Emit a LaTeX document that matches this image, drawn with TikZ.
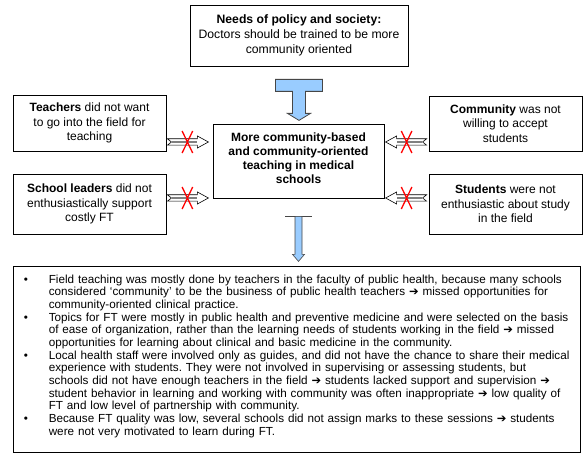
\documentclass[tikz,border=0pt]{standalone}
\usepackage{fontspec}
\setmainfont{Liberation Sans}
\newfontfamily\symfont{DejaVu Sans}
\usepackage{enumitem}
\usetikzlibrary{calc}
\frenchspacing
\definecolor{arrowblue}{RGB}{153,204,255}
\definecolor{arrowedge}{RGB}{70,70,70}
\definecolor{crossred}{RGB}{255,0,0}
\newcommand{\ar}{{\symfont\fontsize{11.5}{10}\selectfont ➔}}
\newcommand{\notchedarrow}{%
  \filldraw[fill=white, draw=black, line width=0.6pt]
    (0,-3.2) -- (30,-3.2) -- (30,-6) -- (41,0) -- (30,6) -- (30,3.2) -- (0,3.2) -- (4,0) -- cycle;
  \draw[gray, line width=2.2pt] (4.5,0) -- (29.6,0);
  \draw[crossred, line width=1.3pt] (14.7,-11) -- (25.3,11) (14.7,11) -- (25.3,-11);
}
\begin{document}
\frenchspacing
\begin{tikzpicture}[x=1pt,y=-1pt,
  box/.style={draw, line width=0.8pt, align=center, inner sep=0pt,
    font=\fontsize{12}{14.6}\selectfont},
  sidebox/.style={box, minimum width=153pt}]
\useasboundingbox (0,0) rectangle (587,470);

% boxes
\node[box, minimum width=218pt, minimum height=61pt, font=\fontsize{12.2}{14.8}\selectfont] (policy) at (299,35.5)
  {\textbf{Needs of policy and society:}\\Doctors should be trained to be more\\community oriented};
\node[box, minimum width=171pt, minimum height=74pt] (goal) at (298.5,161) {};
\node[align=center, inner sep=0pt, font=\fontsize{12}{14}\selectfont\bfseries, yshift=3pt] (goaltext) at (goal.center)
  {More community-based\\and community-oriented\\teaching in medical\\schools};
\node[sidebox, minimum height=56pt] (teachers) at (89.5,123)
  {\textbf{Teachers} did not want\\to go into the field for\\teaching};
\node[sidebox, minimum height=60pt] (leaders) at (89.5,204)
  {\textbf{School leaders} did not\\enthusiastically support\\costly FT};
\node[sidebox, minimum height=55pt] (community) at (505.5,123.5)
  {\textbf{Community} was not\\willing to accept\\students};
\node[sidebox, minimum height=60pt] (students) at (505.5,204)
  {\textbf{Students} were not\\enthusiastic about study\\in the field};
\node[draw, line width=0.8pt, minimum width=567pt, minimum height=186pt, inner sep=0pt] (result) at (296.5,359) {};

% top block arrow
\begin{scope}[shift={(policy.south)}]
  \filldraw[fill=arrowblue, draw=arrowedge, line width=0.8pt]
    (-23.5,13) -- (23.5,13) -- (23.5,25) -- (6.5,25) -- (6.5,47) -- (11.5,47) -- (0,54)
    -- (-11.5,47) -- (-6.5,47) -- (-6.5,25) -- (-23.5,25) -- cycle;
\end{scope}

% bottom block arrow
\begin{scope}[shift={(goal.south)}]
  \draw[arrowedge, line width=1pt] (-13.5,18) -- (13.5,18);
  \filldraw[fill=arrowblue, draw=arrowedge, line width=0.6pt]
    (-3.5,18) -- (3.5,18) -- (3.5,56) -- (6,56) -- (0,63) -- (-6,56) -- (-3.5,56) -- cycle;
\end{scope}

% blocked arrows
\coordinate (t1) at ($(teachers.east)+(1,19)$);
\coordinate (t2) at ($(leaders.east)+(1,-6)$);
\coordinate (t3) at ($(community.west)+(-2,18.5)$);
\coordinate (t4) at ($(students.west)+(-2,-6)$);
\begin{scope}[shift={(t1)}]\notchedarrow\end{scope}
\begin{scope}[shift={(t2)}]\notchedarrow\end{scope}
\begin{scope}[shift={(t3)}, xscale=-1]\notchedarrow\end{scope}
\begin{scope}[shift={(t4)}, xscale=-1]\notchedarrow\end{scope}

% list text
\node[anchor=north west, inner sep=0pt, text width=565pt, font=\fontsize{11.7}{12.6}\selectfont]
  (listtext) at ($(result.north west)+(11,5)$) {%
\frenchspacing
\begin{itemize}[leftmargin=25pt, labelwidth=8pt, labelsep=17pt, align=left,
  topsep=0pt, partopsep=0pt, parsep=0pt, itemsep=0.2pt]
\item Field teaching was mostly done by teachers in the faculty of public health, because many schools\newline
considered `community' to be the business of public health teachers \ar{} missed opportunities for\newline
community-oriented clinical practice.
\item Topics for FT were mostly in public health and preventive medicine and were selected on the basis\newline
of ease of organization, rather than the learning needs of students working in the field \ar{} missed\newline
opportunities for learning about clinical and basic medicine in the community.
\item Local health staff were involved only as guides, and did not have the chance to share their medical\newline
experience with students. They were not involved in supervising or assessing students, but\newline
schools did not have enough teachers in the field \ar{} students lacked support and supervision \ar\newline
student behavior in learning and working with community was often inappropriate \ar{} low quality of\newline
FT and low level of partnership with community.
\item Because FT quality was low, several schools did not assign marks to these sessions \ar{} students\newline
were not very motivated to learn during FT.
\end{itemize}};
\end{tikzpicture}
\end{document}
